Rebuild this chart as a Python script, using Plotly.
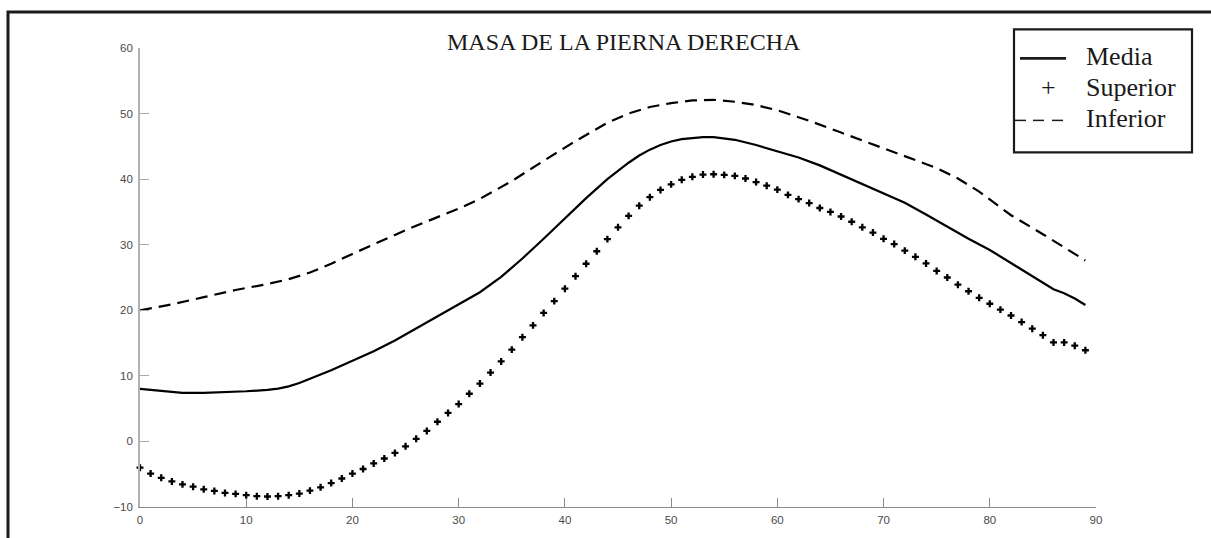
import plotly.graph_objects as go

# ---- data ---------------------------------------------------------------
media_x = [0, 2, 4, 6, 8, 10, 12, 13, 14, 15, 16, 17, 18, 20, 22, 24, 26, 28,
           30, 32, 34, 36, 38, 40, 42, 44, 46, 47, 48, 49, 50, 51, 52, 53, 54,
           55, 56, 58, 60, 62, 64, 66, 68, 70, 72, 74, 76, 78, 80, 82, 84, 86,
           87, 88, 89]
media_y = [8.0, 7.65, 7.4, 7.4, 7.5, 7.65, 7.85, 8.05, 8.4, 8.9, 9.55, 10.2,
           10.85, 12.3, 13.75, 15.4, 17.25, 19.05, 20.85, 22.75, 25.1, 27.9,
           30.9, 34.0, 37.1, 40.0, 42.5, 43.6, 44.5, 45.2, 45.75, 46.1, 46.3,
           46.4, 46.4, 46.25, 46.0, 45.2, 44.3, 43.3, 42.1, 40.7, 39.2, 37.8,
           36.4, 34.6, 32.7, 30.9, 29.2, 27.2, 25.1, 23.2, 22.6, 21.8, 20.8]

superior_x = list(range(0, 90))
superior_y = [-4.0, -4.9, -5.55, -6.1, -6.55, -6.9, -7.3, -7.55, -7.85, -8.0,
              -8.2, -8.35, -8.4, -8.35, -8.2, -7.95, -7.5, -7.0, -6.35, -5.65,
              -4.9, -4.2, -3.35, -2.6, -1.75, -0.75, 0.4, 1.6, 3.0, 4.35,
              5.7, 7.27, 8.82, 10.5, 12.2, 14.0, 15.9, 17.7, 19.6, 21.4,
              23.3, 25.2, 27.1, 29.0, 30.85, 32.65, 34.4, 35.95, 37.25, 38.35,
              39.2, 39.9, 40.35, 40.7, 40.75, 40.65, 40.5, 40.1, 39.55, 39.0,
              38.4, 37.6, 36.95, 36.35, 35.6, 35.0, 34.3, 33.5, 32.65, 31.85,
              30.9, 30.1, 29.1, 28.15, 27.15, 26.0, 25.0, 23.9, 22.9, 21.9,
              21.0, 20.1, 19.2, 18.2, 17.2, 16.2, 15.1, 15.1, 14.6, 13.9]

inferior_x = [0, 3, 6, 9, 12, 14, 16, 18, 20, 22, 24, 26, 28, 30, 32, 35, 38,
              41, 44, 46, 48, 50, 52, 54, 56, 58, 60, 63, 66, 69, 72, 75, 77,
              79, 82, 85, 89]
inferior_y = [20.0, 20.9, 22.0, 23.1, 24.0, 24.75, 25.75, 27.1, 28.6, 30.1,
              31.5, 32.9, 34.2, 35.5, 37.0, 39.7, 42.8, 45.8, 48.6, 50.0,
              51.0, 51.6, 52.0, 52.1, 51.8, 51.3, 50.5, 48.9, 47.1, 45.3,
              43.6, 41.7, 40.1, 38.1, 34.5, 31.6, 27.6]

x_ticks = list(range(0, 91, 10))
y_ticks = list(range(-10, 61, 10))

title_text = "MASA DE LA PIERNA DERECHA"
legend_labels = ["Media", "Superior", "Inferior"]

# ---- page geometry (pixels) ----------------------------------------------
W, H = 1211, 538
L, R, T, B = 140, 115, 48, 24
PW, PH = W - L - R, H - T - B


def px(x):
    return (x - L) / PW


def py(y):
    return (H - B - y) / PH


INK = "#1a1a1a"
SERIF = "Liberation Serif"

fig = go.Figure()

fig.add_trace(go.Scatter(
    x=inferior_x, y=inferior_y, mode="lines", name=legend_labels[2],
    line=dict(color="black", width=2.2, dash="12px,7px"),
    showlegend=False, hoverinfo="skip"))

fig.add_trace(go.Scatter(
    x=media_x, y=media_y, mode="lines", name=legend_labels[0],
    line=dict(color="black", width=2.2),
    showlegend=False, hoverinfo="skip"))

fig.add_trace(go.Scatter(
    x=superior_x, y=superior_y, mode="markers", name=legend_labels[1],
    marker=dict(symbol="cross", size=5.8, color="black",
                line=dict(width=0)),
    cliponaxis=False, showlegend=False, hoverinfo="skip"))

axis_font = dict(family="Liberation Sans, Arial, sans-serif", size=11.5,
                 color="#4a4a4a")

fig.update_xaxes(range=[0, 90], tickvals=x_ticks, ticks="inside", ticklen=9,
                 tickwidth=1, tickcolor="#8a8a8a", showline=True,
                 linecolor="#8a8a8a", linewidth=1.3, showgrid=False,
                 zeroline=False, tickfont=axis_font, ticklabelstandoff=2)
fig.update_yaxes(range=[-10, 60], tickvals=y_ticks, ticks="inside", ticklen=9,
                 tickwidth=1, tickcolor="#a8a8a8", showline=True,
                 linecolor="#b0b0b0", linewidth=1.6, showgrid=False,
                 zeroline=False, tickfont=axis_font, ticklabelstandoff=3)

shapes = [
    # outer frame running off the right and bottom edges
    dict(type="rect", xref="paper", yref="paper",
         x0=px(8), x1=px(W + 20), y0=py(H + 20), y1=py(11.5),
         line=dict(color=INK, width=3), layer="above"),
    # legend box
    dict(type="rect", xref="paper", yref="paper",
         x0=px(1014), x1=px(1192), y0=py(154), y1=py(29),
         line=dict(color=INK, width=2.2), fillcolor="white", layer="above"),
    # legend sample: solid line
    dict(type="line", xref="paper", yref="paper",
         x0=px(1020), x1=px(1066), y0=py(58.5), y1=py(58.5),
         line=dict(color=INK, width=2.6), layer="above"),
]
# legend sample: three short dashes
for d0, d1 in [(1015, 1026), (1033, 1044), (1052, 1063)]:
    shapes.append(dict(type="line", xref="paper", yref="paper",
                       x0=px(d0), x1=px(d1), y0=py(121.5), y1=py(121.5),
                       line=dict(color=INK, width=1.5), layer="above"))

annotations = [
    dict(text=title_text, xref="paper", yref="paper", x=px(624), y=py(42),
         xanchor="center", yanchor="middle", showarrow=False,
         font=dict(family=SERIF, size=24, color=INK)),
    dict(text="+", xref="paper", yref="paper", x=px(1048), y=py(88),
         xanchor="center", yanchor="middle", showarrow=False,
         font=dict(family=SERIF, size=26, color=INK)),
]
for label, cy in zip(legend_labels, [57, 88.5, 119.5]):
    annotations.append(dict(
        text=label, xref="paper", yref="paper", x=px(1084), y=py(cy),
        xanchor="left", yanchor="middle", showarrow=False,
        font=dict(family=SERIF, size=26, color=INK)))

fig.update_layout(
    width=W, height=H,
    margin=dict(l=L, r=R, t=T, b=B),
    paper_bgcolor="white", plot_bgcolor="white",
    shapes=shapes, annotations=annotations,
    showlegend=False,
)

fig.write_html("out.html", config={"displayModeBar": False})
